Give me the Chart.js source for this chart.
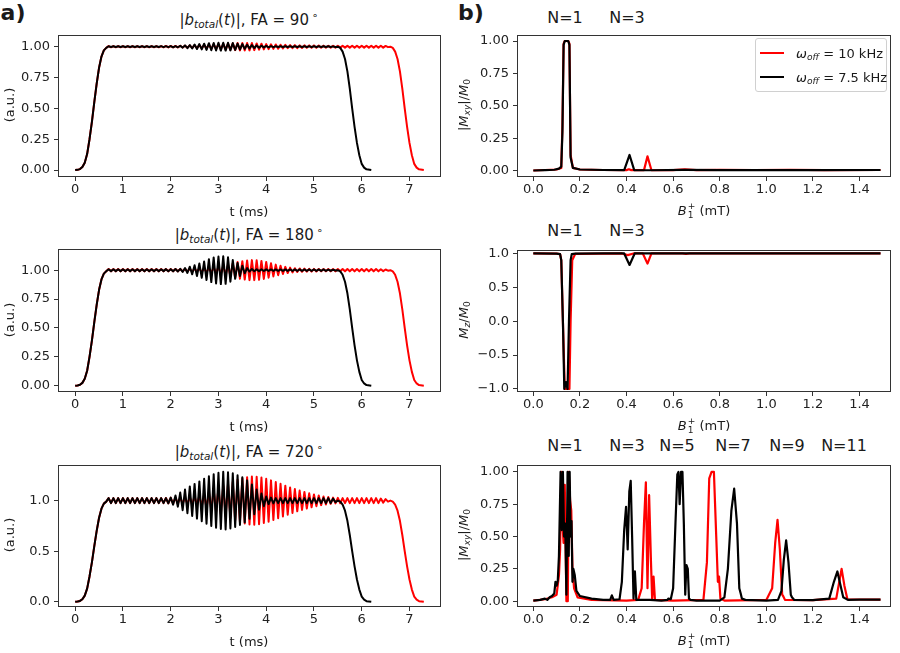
<!DOCTYPE html>
<html>
<head>
<meta charset="utf-8">
<script src="https://cdn.jsdelivr.net/npm/chart.js@4.4.1/dist/chart.umd.min.js"></script>
<style>
  html, body { margin: 0; padding: 0; background: #fff; }
  body { width: 900px; height: 653px; position: relative; overflow: hidden;
         font-family: 'DejaVu Sans', sans-serif; color: #1a1a1a; }
  canvas { position: absolute; }
  .txt { position: absolute; white-space: nowrap; transform: translate(-50%, -50%); }
  .rot { transform: translate(-50%, -50%) rotate(-90deg); }
  sub { font-size: 70%; vertical-align: -0.3em; line-height: 0; }
  sup { font-size: 70%; vertical-align: 0.55em; line-height: 0; }
  .panel { font-weight: bold; font-size: 22px; }
  .title { font-size: 15px; }
  .axl { font-size: 13px; }
  .nlab { font-size: 16px; }
  .ss { display: inline-flex; flex-direction: column; vertical-align: middle;
        font-size: 70%; line-height: 1; margin-left: 1px; }
  #legend { position: absolute; left: 755px; top: 38px; width: 130px; height: 52px;
            border: 1px solid #d0d0d0; border-radius: 3px; background: rgba(255,255,255,0.85); }
  .sw { position: absolute; width: 24px; height: 2px; }
  .lgt { position: absolute; font-size: 13px; white-space: nowrap; transform: translateY(-50%); }
</style>
</head>
<body>

<div class="txt panel" style="left:13px;top:12px">a)</div>
<div class="txt panel" style="left:471px;top:12px">b)</div>

<!-- left column titles -->
<div class="txt title" style="left:249px;top:20px">|<i>b</i><sub><i>total</i></sub>(<i>t</i>)|, FA = 90&#8201;<sup>∘</sup></div>
<div class="txt title" style="left:249px;top:235px">|<i>b</i><sub><i>total</i></sub>(<i>t</i>)|, FA = 180&#8201;<sup>∘</sup></div>
<div class="txt title" style="left:249px;top:452px">|<i>b</i><sub><i>total</i></sub>(<i>t</i>)|, FA = 720&#8201;<sup>∘</sup></div>

<!-- N labels -->
<div class="txt nlab" style="left:565px;top:17px">N=1</div>
<div class="txt nlab" style="left:627px;top:17px">N=3</div>
<div class="txt nlab" style="left:565px;top:230px">N=1</div>
<div class="txt nlab" style="left:627px;top:230px">N=3</div>
<div class="txt nlab" style="left:565px;top:445px">N=1</div>
<div class="txt nlab" style="left:627px;top:445px">N=3</div>
<div class="txt nlab" style="left:677px;top:445px">N=5</div>
<div class="txt nlab" style="left:733px;top:445px">N=7</div>
<div class="txt nlab" style="left:787px;top:445px">N=9</div>
<div class="txt nlab" style="left:844px;top:445px">N=11</div>

<canvas id="tl" width="441" height="184" style="left:8px;top:23px"></canvas>
<canvas id="ml" width="441" height="185" style="left:8px;top:237px"></canvas>
<canvas id="bl" width="441" height="184" style="left:8px;top:453px"></canvas>
<canvas id="tr" width="432" height="184" style="left:467px;top:23px"></canvas>
<canvas id="mr" width="432" height="184" style="left:467px;top:238px"></canvas>
<canvas id="br" width="432" height="184" style="left:467px;top:453px"></canvas>

<!-- axis labels -->
<div class="txt axl" style="left:249px;top:211px">t (ms)</div>
<div class="txt axl" style="left:249px;top:426px">t (ms)</div>
<div class="txt axl" style="left:249px;top:641px">t (ms)</div>
<div class="txt axl" style="left:704px;top:211px"><i>B</i><span class="ss"><span>+</span><span>1</span></span> (mT)</div>
<div class="txt axl" style="left:704px;top:426px"><i>B</i><span class="ss"><span>+</span><span>1</span></span> (mT)</div>
<div class="txt axl" style="left:704px;top:641px"><i>B</i><span class="ss"><span>+</span><span>1</span></span> (mT)</div>
<div class="txt axl rot" style="left:9px;top:105px">(a.u.)</div>
<div class="txt axl rot" style="left:9px;top:320px">(a.u.)</div>
<div class="txt axl rot" style="left:9px;top:535px">(a.u.)</div>
<div class="txt axl rot" style="left:463px;top:105px">|<i>M</i><sub><i>xy</i></sub>|/<i>M</i><sub>0</sub></div>
<div class="txt axl rot" style="left:463px;top:320px"><i>M</i><sub><i>z</i></sub>/<i>M</i><sub>0</sub></div>
<div class="txt axl rot" style="left:463px;top:535px">|<i>M</i><sub><i>xy</i></sub>|/<i>M</i><sub>0</sub></div>

<div id="legend">
  <div class="sw" style="left:4px;top:13px;background:#ff0000"></div>
  <div class="lgt" style="left:40px;top:14px"><i>ω</i><sub><i>off</i></sub> = 10 kHz</div>
  <div class="sw" style="left:4px;top:37px;background:#000"></div>
  <div class="lgt" style="left:40px;top:38px"><i>ω</i><sub><i>off</i></sub> = 7.5 kHz</div>
</div>

<script>
// ---------- pulse envelopes |b_total(t)| (left column) ----------
// rise and fall edges (shared shape), t in ms
const rampUpT = [0, 0.05, 0.1, 0.15, 0.2, 0.25, 0.3, 0.35, 0.4, 0.45, 0.5, 0.55, 0.6, 0.65];
const rampUpV = [0, 0.002, 0.008, 0.025, 0.06, 0.13, 0.25, 0.39, 0.55, 0.7, 0.83, 0.92, 0.97, 0.99];
const fallT_75 = [5.55, 5.6, 5.65, 5.7, 5.75, 5.8, 5.85, 5.9, 5.95, 6.0, 6.05, 6.1, 6.2];
const fallT_10 = [6.65, 6.7, 6.75, 6.8, 6.85, 6.9, 6.95, 7.0, 7.05, 7.1, 7.15, 7.2, 7.3];
const fallV = [0.99, 0.96, 0.9, 0.8, 0.66, 0.5, 0.35, 0.22, 0.12, 0.05, 0.02, 0.006, 0];

// plateau samples, every half period starting at t = 0.7 ms
const oscStart = 0.7;
const oscStep = 0.05;

// FA = 90
const b90_75 = [
  1.003,0.997,1.003,0.997,1.003,0.997,1.003,0.997,1.003,0.997,
  1.003,0.997,1.003,0.997,1.003,0.997,1.003,0.997,1.003,0.997,
  1.003,0.997,1.004,0.996,1.004,0.996,1.005,0.995,1.005,0.995,
  1.007,0.992,1.010,0.988,1.013,0.985,1.017,0.981,1.021,0.978,
  1.024,0.974,1.028,0.971,1.030,0.969,1.032,0.968,1.032,0.968,
  1.031,0.970,1.029,0.973,1.025,0.977,1.021,0.982,1.016,0.986,
  1.012,0.989,1.010,0.991,1.008,0.993,1.006,0.995,1.005,0.996,
  1.003,0.997,1.003,0.997,1.003,0.997,1.003,0.997,1.003,0.997,
  1.003,0.997,1.003,0.997,1.003,0.997,1.003,0.997,1.003,0.997,
  1.003,0.997,1.003,0.997,1.002,0.998,1.000
];
const b90_10 = [
  1.005,0.995,1.005,0.995,1.005,0.995,1.005,0.995,1.005,0.995,
  1.005,0.995,1.005,0.995,1.005,0.995,1.005,0.995,1.005,0.995,
  1.005,0.995,1.005,0.995,1.006,0.994,1.006,0.994,1.006,0.994,
  1.007,0.993,1.008,0.992,1.009,0.990,1.011,0.988,1.013,0.986,
  1.015,0.984,1.017,0.982,1.019,0.980,1.021,0.978,1.023,0.976,
  1.025,0.974,1.027,0.972,1.029,0.970,1.030,0.970,1.030,0.970,
  1.029,0.972,1.026,0.975,1.024,0.978,1.021,0.980,1.019,0.982,
  1.018,0.983,1.016,0.985,1.014,0.987,1.013,0.988,1.012,0.988,
  1.011,0.989,1.011,0.990,1.010,0.990,1.010,0.990,1.009,0.991,
  1.008,0.992,1.008,0.992,1.008,0.992,1.008,0.992,1.008,0.992,
  1.008,0.992,1.008,0.992,1.008,0.992,1.008,0.992,1.008,0.992,
  1.008,0.992,1.008,0.992,1.008,0.992,1.006,0.996,1.000
];

// FA = 180
const b180_75 = [
  1.008,0.992,1.008,0.992,1.008,0.992,1.008,0.992,1.008,0.992,
  1.008,0.992,1.008,0.992,1.008,0.992,1.008,0.992,1.008,0.992,
  1.008,0.992,1.008,0.992,1.009,0.991,1.009,0.990,1.010,0.989,
  1.012,0.985,1.019,0.976,1.030,0.964,1.043,0.950,1.058,0.934,
  1.075,0.915,1.095,0.897,1.110,0.885,1.118,0.880,1.120,0.882,
  1.112,0.900,1.088,0.925,1.062,0.950,1.038,0.973,1.018,0.988,
  1.010,0.991,1.008,0.992,1.007,0.993,1.007,0.994,1.006,0.994,
  1.006,0.994,1.006,0.994,1.006,0.994,1.006,0.994,1.006,0.994,
  1.006,0.994,1.006,0.994,1.006,0.994,1.006,0.994,1.006,0.994,
  1.006,0.994,1.005,0.995,1.004,0.997,1.000
];
const b180_10 = [
  1.010,0.990,1.010,0.990,1.010,0.990,1.010,0.990,1.010,0.990,
  1.010,0.990,1.010,0.990,1.010,0.990,1.010,0.990,1.010,0.990,
  1.010,0.990,1.010,0.990,1.010,0.990,1.010,0.990,1.010,0.990,
  1.010,0.990,1.011,0.989,1.012,0.988,1.013,0.987,1.014,0.986,
  1.015,0.983,1.020,0.978,1.025,0.972,1.031,0.965,1.040,0.956,
  1.050,0.945,1.060,0.935,1.070,0.926,1.078,0.919,1.084,0.914,
  1.087,0.914,1.085,0.917,1.080,0.924,1.071,0.935,1.060,0.946,
  1.048,0.957,1.038,0.967,1.029,0.975,1.022,0.981,1.017,0.984,
  1.015,0.986,1.013,0.987,1.012,0.988,1.011,0.989,1.010,0.990,
  1.010,0.990,1.010,0.990,1.010,0.990,1.010,0.990,1.010,0.990,
  1.010,0.990,1.010,0.990,1.010,0.990,1.010,0.990,1.010,0.990,
  1.010,0.990,1.010,0.990,1.008,0.992,1.006,0.996,1.000
];

// FA = 720
const b720_75 = [
  1.025,0.975,1.025,0.975,1.025,0.975,1.025,0.975,1.025,0.975,
  1.025,0.975,1.025,0.975,1.025,0.975,1.025,0.975,1.025,0.975,
  1.025,0.975,1.025,0.975,1.025,0.972,1.030,0.960,1.050,0.940,
  1.080,0.905,1.110,0.875,1.140,0.848,1.165,0.822,1.190,0.797,
  1.215,0.772,1.240,0.750,1.260,0.732,1.275,0.720,1.285,0.714,
  1.280,0.725,1.270,0.740,1.250,0.760,1.230,0.785,1.200,0.820,
  1.160,0.865,1.110,0.910,1.070,0.945,1.040,0.965,1.030,0.972,
  1.025,0.975,1.025,0.975,1.025,0.975,1.025,0.975,1.025,0.975,
  1.025,0.975,1.025,0.975,1.025,0.975,1.025,0.975,1.025,0.975,
  1.025,0.975,1.025,0.975,1.020,0.985,1.000
];
const b720_10 = [
  1.025,0.975,1.025,0.975,1.025,0.975,1.025,0.975,1.025,0.975,
  1.025,0.975,1.025,0.975,1.025,0.975,1.025,0.975,1.025,0.975,
  1.025,0.975,1.025,0.975,1.026,0.973,1.028,0.971,1.030,0.970,
  1.031,0.968,1.033,0.965,1.037,0.960,1.044,0.952,1.053,0.940,
  1.067,0.925,1.085,0.905,1.105,0.885,1.125,0.865,1.145,0.845,
  1.165,0.825,1.185,0.805,1.205,0.787,1.220,0.773,1.232,0.764,
  1.238,0.762,1.236,0.767,1.228,0.778,1.215,0.792,1.200,0.808,
  1.184,0.825,1.166,0.843,1.148,0.861,1.130,0.878,1.114,0.894,
  1.099,0.908,1.085,0.922,1.072,0.934,1.060,0.945,1.050,0.955,
  1.041,0.962,1.035,0.968,1.030,0.972,1.027,0.974,1.025,0.975,
  1.025,0.975,1.025,0.975,1.025,0.975,1.025,0.975,1.025,0.975,
  1.025,0.975,1.025,0.975,1.020,0.980,1.015,0.990,1.000
];

// ---------- B1+ profiles (right column), B1+ in mT ----------
const mxy90B_75 = [0,0.05,0.09,0.11,0.12,0.125,0.13,0.135,0.15,0.155,0.16,0.17,0.2,0.3,0.39,0.413,0.433,0.5,0.65,0.8,1.0,1.2,1.49];
const mxy90M_75 = [0,0.003,0.006,0.015,0.03,0.3,0.97,1.0,1.0,0.97,0.1,0.02,0.008,0.004,0.003,0.12,0.003,0.002,0.005,0.003,0.003,0.003,0.004];
const mxy90B_10 = [0,0.05,0.1,0.12,0.125,0.13,0.135,0.15,0.155,0.16,0.17,0.2,0.3,0.4,0.41,0.42,0.475,0.49,0.507,0.6,0.65,0.7,0.8,0.95,1.1,1.25,1.49];
const mxy90M_10 = [0,0.004,0.008,0.02,0.35,0.98,1.0,1.0,0.98,0.12,0.02,0.008,0.004,0.003,0.01,0.003,0.003,0.11,0.002,0.003,0.01,0.003,0.005,0.004,0.006,0.003,0.004];

const mzB_75 = [0,0.1,0.115,0.12,0.127,0.133,0.14,0.147,0.153,0.16,0.165,0.18,0.3,0.39,0.413,0.435,0.6,1.0,1.49];
const mzM_75 = [1,0.998,0.99,0.9,0.0,-1.0,-0.9,-1.0,0.0,0.9,0.99,0.998,1,1,0.83,1,1,1,1];
const mzB_10 = [0,0.1,0.115,0.12,0.127,0.135,0.145,0.155,0.16,0.167,0.18,0.38,0.405,0.43,0.47,0.49,0.507,0.64,0.655,0.67,1.49];
const mzM_10 = [1,0.998,0.99,0.9,0.0,-1.0,-1.0,-1.0,0.0,0.9,0.995,1,0.975,1,1,0.85,1,1,0.995,1,1];

const mxy720B_75 = [0,0.03,0.05,0.06,0.07,0.08,0.09,0.095,0.1,0.105,0.11,0.117,0.122,0.127,0.132,0.137,0.142,0.147,0.152,0.156,
  0.16,0.164,0.168,0.172,0.178,0.185,0.2,0.25,0.3,0.33,0.337,0.345,0.37,0.38,0.39,0.398,0.405,0.412,0.418,0.424,
  0.43,0.436,0.442,0.5,0.55,0.575,0.58,0.59,0.6,0.61,0.618,0.623,0.628,0.634,0.64,0.646,0.652,0.657,0.663,0.668,
  0.675,0.7,0.8,0.82,0.835,0.85,0.862,0.874,0.884,0.89,0.895,0.91,1.0,1.05,1.065,1.075,1.085,1.095,1.105,1.11,
  1.12,1.2,1.27,1.29,1.305,1.316,1.33,1.35,1.4,1.49];
const mxy720M_75 = [0.005,0.01,0.02,0.01,0.03,0.04,0.06,0.15,0.12,0.16,0.35,1.0,0.55,1.0,0.5,0.6,0.05,1.0,0.35,1.0,
  0.5,0.62,0.15,0.25,0.2,0.08,0.04,0.02,0.01,0.01,0.045,0.01,0.015,0.15,0.55,0.73,0.4,0.85,0.93,0.5,
  0.02,0.23,0.01,0.01,0.005,0.01,0.02,0.015,0.1,0.6,0.98,1.0,0.75,1.0,1.0,0.6,0.05,0.28,0.25,0.02,
  0.01,0.005,0.005,0.03,0.25,0.7,0.87,0.6,0.1,0.06,0.02,0.01,0.005,0.01,0.08,0.32,0.47,0.3,0.05,0.03,
  0.01,0.008,0.02,0.15,0.23,0.14,0.03,0.01,0.012,0.012];
const mxy720B_10 = [0,0.05,0.08,0.1,0.11,0.115,0.12,0.125,0.13,0.135,0.142,0.148,0.152,0.158,0.163,0.168,0.175,0.19,0.25,0.4,
  0.45,0.465,0.475,0.483,0.49,0.497,0.505,0.51,0.516,0.522,0.6,0.73,0.745,0.755,0.765,0.775,0.785,0.792,0.797,0.803,
  0.82,1.0,1.025,1.038,1.048,1.058,1.068,1.072,1.08,1.2,1.3,1.31,1.323,1.335,1.348,1.49];
const mxy720M_10 = [0.005,0.015,0.03,0.05,0.2,0.4,1.0,0.6,0.45,0.9,0.0,0.0,1.0,0.78,0.7,0.25,0.1,0.03,0.01,0.005,
  0.01,0.1,0.6,0.92,0.1,0.82,0.3,0.02,0.19,0.01,0.005,0.01,0.3,0.95,1.0,1.0,0.5,0.15,0.19,0.02,
  0.005,0.01,0.1,0.45,0.63,0.4,0.05,0.04,0.01,0.008,0.02,0.12,0.25,0.12,0.015,0.012];

// tick values
const tTicks = [0, 1, 2, 3, 4, 5, 6, 7];
const bTicks = [0, 0.2, 0.4, 0.6, 0.8, 1.0, 1.2, 1.4];
const quarterTicks = [0, 0.25, 0.5, 0.75, 1.0];
const halfTicks = [0, 0.5, 1.0];
const mzTicks = [-1, -0.5, 0, 0.5, 1];

const RED = '#ff0000';
const BLACK = '#000000';

Chart.defaults.font.family = "'DejaVu Sans', sans-serif";
Chart.defaults.font.size = 13;
Chart.defaults.color = '#222';

function pulse(osc, fallT) {
    const pts = rampUpT.map((t, i) => ({ x: t, y: rampUpV[i] }));
    osc.forEach((v, i) => pts.push({ x: +(oscStart + i * oscStep).toFixed(3), y: v }));
    fallT.forEach((t, i) => pts.push({ x: t, y: fallV[i] }));
    return pts;
}

function zip(xs, ys) {
    return xs.map((x, i) => ({ x: x, y: ys[i] }));
}

const frame = {
    id: 'frame',
    afterDraw(chart) {
        const { ctx, chartArea: a } = chart;
        ctx.save();
        ctx.strokeStyle = '#333';
        ctx.lineWidth = 1;
        ctx.strokeRect(Math.round(a.left) + 0.5, Math.round(a.top) + 0.5,
                       Math.round(a.width) - 1, Math.round(a.height) - 1);
        ctx.restore();
    }
};

function axis(o, dir) {
    return {
        type: 'linear',
        min: o.min,
        max: o.max,
        afterBuildTicks: s => { s.ticks = o.ticks.map(v => ({ value: v })); },
        afterFit: s => { if (dir === 'x') s.height = 30; else s.width = 50; },
        border: { display: false },
        grid: { drawOnChartArea: false, drawTicks: true, tickLength: 4, color: '#333', lineWidth: 1 },
        ticks: {
            autoSkip: false,
            maxRotation: 0,
            padding: dir === 'x' ? 1 : 4,
            color: '#222',
            font: { size: 13 },
            callback: o.fmt
        }
    };
}

function plot(id, sets, x, y) {
    return new Chart(document.getElementById(id), {
        type: 'line',
        data: { datasets: sets },
        options: {
            responsive: false,
            animation: false,
            events: [],
            layout: { padding: { left: 0, top: 10, right: 8, bottom: 0 } },
            plugins: { legend: { display: false }, tooltip: { enabled: false } },
            elements: { point: { radius: 0 }, line: { tension: 0, borderJoinStyle: 'round' } },
            scales: { x: axis(x, 'x'), y: axis(y, 'y') }
        },
        plugins: [frame]
    });
}

function line(data, color, w) {
    return { data: data, borderColor: color, borderWidth: w, fill: false, pointRadius: 0 };
}

const tAxis = { min: -0.36, max: 7.66, ticks: tTicks, fmt: v => String(v) };
const bAxis = { min: -0.07, max: 1.535, ticks: bTicks, fmt: v => v.toFixed(1) };
const f2 = v => v.toFixed(2);
const f1 = v => (v < 0 ? '\u2212' + Math.abs(v).toFixed(1) : v.toFixed(1));

// black (7.5 kHz) first so it is drawn on top of red (10 kHz)
plot('tl', [line(pulse(b90_75, fallT_75), BLACK, 2), line(pulse(b90_10, fallT_10), RED, 2)],
     tAxis, { min: -0.056, max: 1.096, ticks: quarterTicks, fmt: f2 });
plot('ml', [line(pulse(b180_75, fallT_75), BLACK, 2), line(pulse(b180_10, fallT_10), RED, 2)],
     tAxis, { min: -0.054, max: 1.185, ticks: quarterTicks, fmt: f2 });
plot('bl', [line(pulse(b720_75, fallT_75), BLACK, 2), line(pulse(b720_10, fallT_10), RED, 2)],
     tAxis, { min: -0.052, max: 1.354, ticks: halfTicks, fmt: f1 });

plot('tr', [line(zip(mxy90B_75, mxy90M_75), BLACK, 2.2), line(zip(mxy90B_10, mxy90M_10), RED, 2.2)],
     bAxis, { min: -0.05, max: 1.048, ticks: quarterTicks, fmt: f2 });
plot('mr', [line(zip(mzB_75, mzM_75), BLACK, 2.2), line(zip(mzB_10, mzM_10), RED, 2.2)],
     bAxis, { min: -1.045, max: 1.054, ticks: mzTicks, fmt: f1 });
plot('br', [line(zip(mxy720B_75, mxy720M_75), BLACK, 2.2), line(zip(mxy720B_10, mxy720M_10), RED, 2.2)],
     bAxis, { min: -0.045, max: 1.055, ticks: quarterTicks, fmt: f2 });
</script>
</body>
</html>
